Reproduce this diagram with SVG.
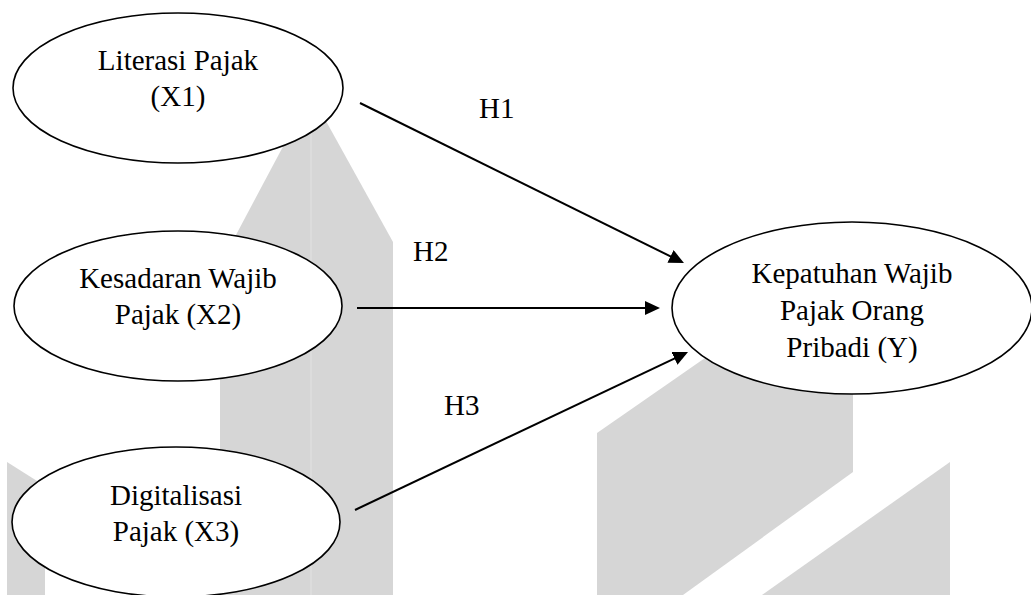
<svg xmlns="http://www.w3.org/2000/svg" width="1031" height="595" viewBox="0 0 1031 595">
  <style>
    .wm { fill: #d6d6d6; stroke: none; }
    .node ellipse { fill: #ffffff; stroke: #000000; stroke-width: 1.6; }
    .node text { text-anchor: middle; }
    .conn line { stroke: #000000; stroke-width: 2; fill: none; }
  </style>
  <defs>
    <marker id="arrow" markerUnits="userSpaceOnUse" markerWidth="16" markerHeight="15" refX="5" refY="7" orient="auto">
      <path d="M0,0 L15,7 L0,14 Z" fill="#000000"/>
    </marker>
  </defs>
  <rect x="0" y="0" width="1031" height="595" fill="#ffffff"/>
  <g id="watermark">
    <polygon class="wm" points="311,94 393,242 393,595 220,595 220,265"/>
    <line x1="311" y1="94" x2="311" y2="595" stroke="#dedede" stroke-width="1.5"/>
    <polygon class="wm" points="7,462 45,486 45,595 7,595"/>
    <polygon class="wm" points="597,433 780,306 853,306 853,472 683,595 597,595"/>
    <polygon class="wm" points="950,462 950,595 762,595"/>
  </g>
  <g id="connectors" class="conn">
    <line x1="360" y1="103" x2="675" y2="258.6" marker-end="url(#arrow)"/>
    <line x1="357" y1="308" x2="650" y2="308" marker-end="url(#arrow)"/>
    <line x1="355" y1="510" x2="679" y2="356.3" marker-end="url(#arrow)"/>
  </g>
  <g font-family="'Liberation Serif', 'Times New Roman', 'DejaVu Serif', serif" font-size="29" fill="#000000">
    <g id="labels">
      <text x="479" y="118">H1</text>
      <text x="413" y="261">H2</text>
      <text x="444" y="415">H3</text>
    </g>
    <g id="node-x1" class="node">
      <ellipse cx="178" cy="88" rx="165" ry="75"/>
      <text x="178" y="70">Literasi Pajak</text>
      <text x="178" y="106">(X1)</text>
    </g>
    <g id="node-x2" class="node">
      <ellipse cx="178" cy="306" rx="164" ry="75"/>
      <text x="178" y="288">Kesadaran Wajib</text>
      <text x="178" y="324">Pajak (X2)</text>
    </g>
    <g id="node-x3" class="node">
      <ellipse cx="176" cy="522" rx="164" ry="75"/>
      <text x="176" y="505">Digitalisasi</text>
      <text x="176" y="541">Pajak (X3)</text>
    </g>
    <g id="node-y" class="node">
      <ellipse cx="852" cy="308" rx="180" ry="86"/>
      <text x="852" y="283">Kepatuhan Wajib</text>
      <text x="852" y="320">Pajak Orang</text>
      <text x="852" y="357">Pribadi (Y)</text>
    </g>
  </g>
</svg>
